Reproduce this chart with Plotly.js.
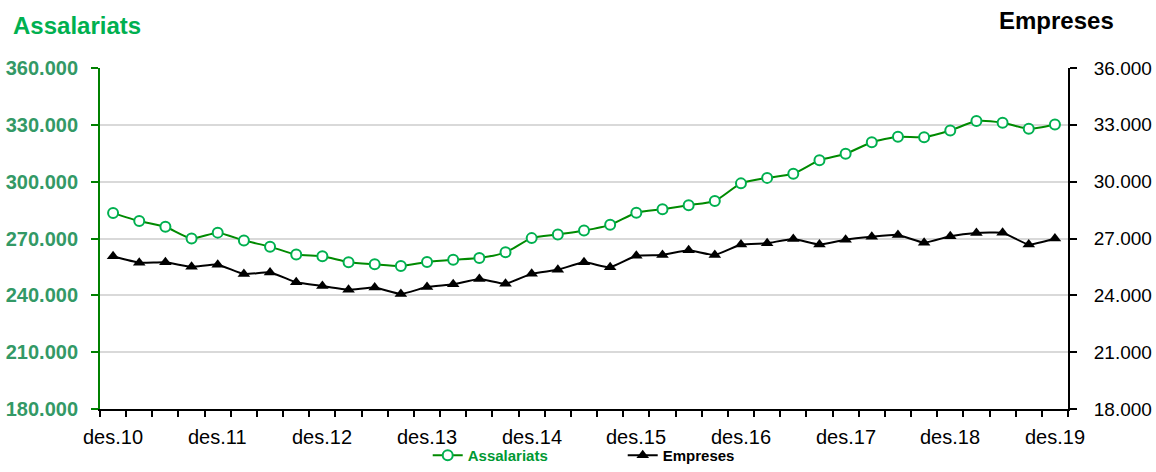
<!DOCTYPE html>
<html>
<head>
<meta charset="utf-8">
<script src="https://cdn.plot.ly/plotly-3.0.1.min.js"></script>
<style>
html,body{margin:0;padding:0;background:#fff;}
#chart{width:1156px;height:472px;}
</style>
</head>
<body>
<div id="chart"></div>
<script>
// Quarterly periods from des.10 to des.19 (37 quarters)
const periods = ["des.10","mar.11","jun.11","set.11","des.11","mar.12","jun.12","set.12","des.12","mar.13","jun.13","set.13","des.13","mar.14","jun.14","set.14","des.14","mar.15","jun.15","set.15","des.15","mar.16","jun.16","set.16","des.16","mar.17","jun.17","set.17","des.17","mar.18","jun.18","set.18","des.18","mar.19","jun.19","set.19","des.19"];
const tickLabels = ["des.10","des.11","des.12","des.13","des.14","des.15","des.16","des.17","des.18","des.19"];

const assalariats = [283400,279200,276200,270000,273100,268900,265700,261500,260600,257500,256400,255500,257600,258800,259700,262700,270200,272100,274200,277200,283600,285500,287600,289800,299100,302000,304200,311300,314700,320800,323700,323500,327000,332000,331100,327900,330200];
const empreses = [26060,25720,25740,25510,25620,25120,25210,24690,24490,24290,24410,24070,24440,24580,24860,24610,25140,25350,25740,25480,26090,26130,26380,26130,26680,26750,26980,26680,26940,27090,27190,26780,27120,27290,27300,26680,27000];

const xIdx = periods.map((_, i) => i);
const labelPos = tickLabels.map(l => periods.indexOf(l));
const boundaries = periods.map((_, i) => i - 0.5).concat([periods.length - 0.5]);
const FONT = "Liberation Sans, Arial, sans-serif";

const traces = [
  {
    x: xIdx, y: assalariats, name: "<span style='color:#009933'>Assalariats</span>", type: "scatter", mode: "lines+markers",
    line: {color: "#008a00", width: 2, shape: "spline", smoothing: 0.6},
    marker: {symbol: "circle", size: 10, color: "#ffffff", line: {color: "#00b050", width: 2}},
    yaxis: "y"
  },
  {
    x: xIdx, y: empreses, name: "Empreses", type: "scatter", mode: "lines+markers",
    line: {color: "#000000", width: 2, shape: "spline", smoothing: 0.4},
    marker: {symbol: "triangle-up", size: 11, color: "#000000"},
    yaxis: "y2"
  }
];

const xLabelAnnotations = tickLabels.map((t, k) => ({
  text: t, xref: "x", yref: "paper", x: labelPos[k], y: -0.082, xanchor: "center", yanchor: "middle",
  showarrow: false, font: {family: FONT, size: 20, color: "#000000"}
}));

const layout = {
  width: 1156, height: 472,
  margin: {l: 100, r: 88, t: 68, b: 63, autoexpand: false},
  paper_bgcolor: "#ffffff", plot_bgcolor: "#ffffff",
  separators: ",.",
  font: {family: FONT, color: "#000000"},
  showlegend: true,
  legend: {
    orientation: "h", x: 0.54, xanchor: "center", yref: "container", y: 0, yanchor: "bottom",
    font: {family: FONT, size: 15, color: "#000000", weight: "bold"},
    itemwidth: 30, entrywidth: 150, entrywidthmode: "pixels",
    bgcolor: "rgba(0,0,0,0)", traceorder: "normal"
  },
  xaxis: {
    range: [-0.5, periods.length - 0.5],
    tickmode: "array", tickvals: boundaries,
    showticklabels: false,
    ticks: "outside", ticklen: 6, tickwidth: 2, tickcolor: "#000000",
    showgrid: false, zeroline: false,
    showline: true, linecolor: "#000000", linewidth: 2
  },
  yaxis: {
    range: [180000, 360000], dtick: 30000, tick0: 180000, tickformat: ",.0f",
    showline: true, linecolor: "#008000", linewidth: 2,
    ticks: "outside", ticklen: 7, tickwidth: 2, tickcolor: "#008000",
    showgrid: true, gridcolor: "#d9d9d9", gridwidth: 2, zeroline: false,
    tickfont: {family: FONT, size: 20, color: "#339966", weight: "bold"},
    ticklabelstandoff: 9
  },
  yaxis2: {
    range: [18000, 36000], dtick: 3000, tick0: 18000, tickformat: ",.0f",
    overlaying: "y", side: "right",
    showline: true, linecolor: "#000000", linewidth: 2,
    ticks: "outside", ticklen: 7, tickwidth: 2, tickcolor: "#000000",
    showgrid: false, zeroline: false,
    tickfont: {family: FONT, size: 19, color: "#000000"},
    ticklabelstandoff: 13
  },
  annotations: [
    {text: "Assalariats", xref: "paper", yref: "paper", x: -0.092, xanchor: "left", y: 1.126, yanchor: "middle",
     showarrow: false, font: {family: FONT, size: 24, color: "#00b050", weight: "bold"}},
    {text: "Empreses", xref: "paper", yref: "paper", x: 0.988, xanchor: "center", y: 1.138, yanchor: "middle",
     showarrow: false, font: {family: FONT, size: 24, color: "#000000", weight: "bold"}}
  ].concat(xLabelAnnotations)
};

Plotly.newPlot("chart", traces, layout, {displayModeBar: false, staticPlot: true});
</script>
</body>
</html>
